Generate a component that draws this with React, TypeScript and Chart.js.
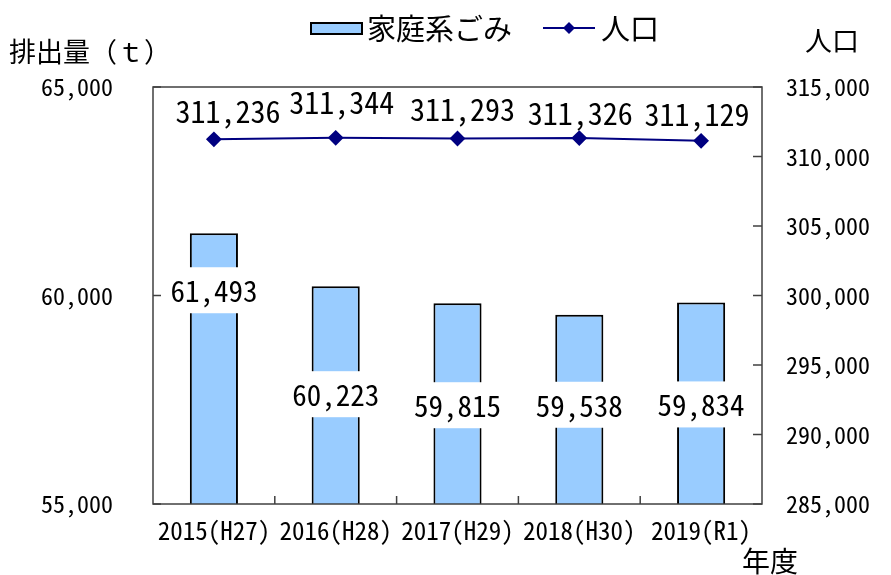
import React, { useEffect, useRef } from "react";
import { Chart, registerables } from "chart.js";

Chart.register(...registerables);

const categories = ["2015(H27)", "2016(H28)", "2017(H29)", "2018(H30)", "2019(R1)"];
const householdWaste = [61493, 60223, 59815, 59538, 59834];
const population = [311236, 311344, 311293, 311326, 311129];
const leftTicks = [55000, 60000, 65000];
const rightTicks = [285000, 290000, 295000, 300000, 305000, 310000, 315000];

const NUM_FONT = '"Noto Sans Mono CJK JP", "Noto Sans CJK JP", sans-serif';
const CJK_FONT = '"Noto Sans CJK JP", sans-serif';

// label placement tweaks (pixels below bar top / above point)
const barLabelOffset = [57, 108, 102, 90, 102];
const lineLabelOffset = [28, 35, 29, 24, 26];
const lineLabelDx = [14, 6, 5, 1, -4];

const fmt = (v: number) => v.toLocaleString("en-US");

const decorPlugin = {
  id: "decor",
  afterDatasetsDraw(chart: any) {
    const { ctx, chartArea: a, scales } = chart;
    const y = scales.y;
    const y1 = scales.y1;
    const x = scales.x;
    ctx.save();
    // frame
    ctx.strokeStyle = "#404040";
    ctx.lineWidth = 1.5;
    ctx.strokeRect(a.left, a.top, a.right - a.left, a.bottom - a.top);
    // inward ticks
    ctx.beginPath();
    leftTicks.forEach((v) => {
      const py = y.getPixelForValue(v);
      ctx.moveTo(a.left, py);
      ctx.lineTo(a.left + 8, py);
    });
    rightTicks.forEach((v) => {
      const py = y1.getPixelForValue(v);
      ctx.moveTo(a.right, py);
      ctx.lineTo(a.right - 9, py);
    });
    for (let i = 1; i < categories.length; i++) {
      const px = (x.getPixelForValue(i - 1) + x.getPixelForValue(i)) / 2;
      ctx.moveTo(px, a.bottom);
      ctx.lineTo(px, a.bottom - 8);
    }
    ctx.stroke();

    // bar labels
    const barMeta = chart.getDatasetMeta(1);
    ctx.font = `29px ${NUM_FONT}`;
    ctx.textAlign = "center";
    ctx.textBaseline = "middle";
    barMeta.data.forEach((el: any, i: number) => {
      const text = fmt(householdWaste[i]);
      const cy = el.y + barLabelOffset[i];
      const w = ctx.measureText(text).width + 10;
      ctx.fillStyle = "#ffffff";
      ctx.fillRect(el.x - w / 2, cy - 23, w, 46);
      ctx.fillStyle = "#000000";
      ctx.fillText(text, el.x, cy + 1);
    });
    // line labels
    ctx.font = `30px ${NUM_FONT}`;
    const lineMeta = chart.getDatasetMeta(0);
    lineMeta.data.forEach((el: any, i: number) => {
      const text = fmt(population[i]);
      const cy = el.y - lineLabelOffset[i];
      ctx.fillStyle = "#000000";
      ctx.fillText(text, el.x + lineLabelDx[i], cy);
    });
    ctx.restore();
  },
  afterDraw(chart: any) {
    const { ctx } = chart;
    ctx.save();
    ctx.textBaseline = "middle";
    ctx.textAlign = "left";
    // legend
    ctx.fillStyle = "#99CCFF";
    ctx.fillRect(311, 23, 51, 11);
    ctx.strokeStyle = "#000000";
    ctx.lineWidth = 2;
    ctx.strokeRect(311, 23, 51, 11);
    ctx.fillStyle = "#000000";
    ctx.font = `29px ${CJK_FONT}`;
    ctx.fillText("家庭系ごみ", 367, 29);
    ctx.strokeStyle = "#000080";
    ctx.lineWidth = 2;
    ctx.beginPath();
    ctx.moveTo(543, 28);
    ctx.lineTo(595, 28);
    ctx.stroke();
    ctx.fillStyle = "#000080";
    ctx.beginPath();
    ctx.moveTo(569, 22);
    ctx.lineTo(575, 28);
    ctx.lineTo(569, 34);
    ctx.lineTo(563, 28);
    ctx.closePath();
    ctx.fill();
    ctx.fillStyle = "#000000";
    ctx.fillText("人口", 601, 29);
    // axis titles
    ctx.font = `27px ${CJK_FONT}`;
    ctx.fillText("排出量（ｔ）", 9, 52);
    ctx.fillText("人口", 805, 41);
    ctx.font = `28px ${CJK_FONT}`;
    ctx.fillText("年度", 742, 561);
    ctx.restore();
  },
};

export default function App() {
  const ref = useRef<HTMLCanvasElement>(null);
  useEffect(() => {
    if (!ref.current) return;
    const chart = new Chart(ref.current, {
      type: "bar",
      data: {
        labels: categories,
        datasets: [
          {
            type: "line",
            label: "人口",
            data: population,
            yAxisID: "y1",
            borderColor: "#000080",
            borderWidth: 2,
            backgroundColor: "#000080",
            pointStyle: "rectRot",
            pointRadius: 6.5,
            pointBackgroundColor: "#000080",
            pointBorderColor: "#000080",
            order: 0,
          } as any,
          {
            type: "bar",
            label: "家庭系ごみ",
            data: householdWaste,
            yAxisID: "y",
            backgroundColor: "#99CCFF",
            borderColor: "#000000",
            borderWidth: 2,
            borderSkipped: false,
            barPercentage: 0.395,
            categoryPercentage: 1,
            order: 1,
          },
        ],
      },
      options: {
        responsive: false,
        animation: false,
        devicePixelRatio: 1,
        layout: { padding: { top: 87, left: 0, right: 0, bottom: 0 } },
        plugins: { legend: { display: false }, tooltip: { enabled: false } },
        scales: {
          x: {
            grid: { display: false, drawTicks: false },
            border: { display: false },
            ticks: {
              color: "#000",
              font: { family: NUM_FONT, size: 25 },
              padding: 11,
              maxRotation: 0,
              autoSkip: false,
            },
            afterFit: (s: any) => {
              s.height = 71;
            },
          },
          y: {
            position: "left",
            min: 55000,
            max: 65000,
            grid: { display: false, drawTicks: false },
            border: { display: false },
            afterBuildTicks: (s: any) => {
              s.ticks = leftTicks.map((v) => ({ value: v }));
            },
            ticks: {
              color: "#000",
              font: { family: NUM_FONT, size: 24 },
              padding: 40,
              callback: (v: any) => fmt(Number(v)),
            },
            afterFit: (s: any) => {
              s.width = 153;
            },
          },
          y1: {
            position: "right",
            min: 285000,
            max: 315000,
            grid: { display: false, drawTicks: false },
            border: { display: false },
            afterBuildTicks: (s: any) => {
              s.ticks = rightTicks.map((v) => ({ value: v }));
            },
            ticks: {
              color: "#000",
              font: { family: NUM_FONT, size: 24 },
              padding: 24,
              callback: (v: any) => fmt(Number(v)),
            },
            afterFit: (s: any) => {
              s.width = 129;
            },
          },
        },
      },
      plugins: [decorPlugin],
    });
    return () => chart.destroy();
  }, []);
  return (
    <div style={{ position: "fixed", left: 0, top: 0, width: 891, height: 575, background: "#fff" }}>
      <canvas ref={ref} width={891} height={575} />
    </div>
  );
}
